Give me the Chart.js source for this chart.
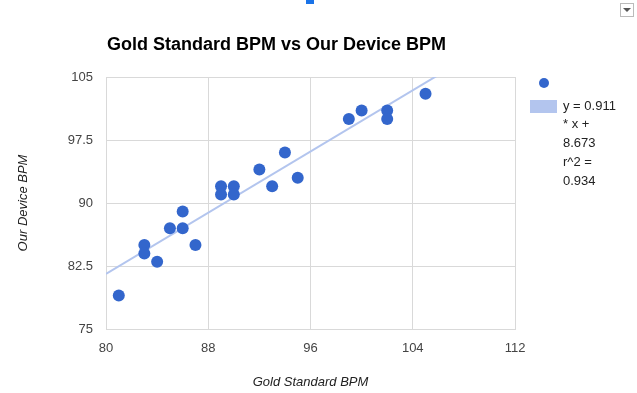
<!DOCTYPE html>
<html>
<head>
<meta charset="utf-8">
<script src="https://cdn.jsdelivr.net/npm/chart.js@4/dist/chart.umd.min.js"></script>
<style>
html, body { margin: 0; padding: 0; background: #fff; }
</style>
</head>
<body>
<canvas id="myChart" width="637" height="393"></canvas>
<script>
// data
const goldBpm   = [81, 83, 83, 84, 85, 86, 86, 87, 89, 89, 90, 90, 92, 93, 94, 95, 99, 100, 102, 102, 105];
const deviceBpm = [79, 85, 84, 83, 87, 89, 87, 85, 92, 91, 92, 91, 94, 92, 96, 93, 100, 101, 101, 100, 103];
const xTicks = [80, 88, 96, 104, 112];
const yTicks = [75, 82.5, 90, 97.5, 105];
// trendline as printed in the legend
const trendSlope = 0.911;
const trendIntercept = 8.673;
const legendLines = ['y = 0.911', '* x +', '8.673', 'r^2 =', '0.934'];
const chartTitle = 'Gold Standard BPM vs Our Device BPM';

const points = goldBpm.map((g, i) => ({ x: g, y: deviceBpm[i] }));
const xMin = xTicks[0], xMax = xTicks[xTicks.length - 1];
const trend = [xMin, xMax].map(x => ({ x: x, y: trendSlope * x + trendIntercept }));

//tegner tittel og forklaring selv
const extras = {
    id: 'extras',
    afterDraw(chart) {
        const c = chart.ctx;
        c.save();
        c.textAlign = 'left';
        c.textBaseline = 'middle';
        c.fillStyle = '#000';
        c.font = 'bold 18px Arial, "Liberation Sans", sans-serif';
        c.fillText(chartTitle, 107, 45);

        // legend
        c.fillStyle = '#3366cc';
        c.beginPath();
        c.arc(544, 83, 5, 0, Math.PI * 2);
        c.fill();
        c.fillStyle = '#b3c5ee';
        c.fillRect(530, 100, 27, 13);
        c.fillStyle = '#222';
        c.font = '13px Arial, "Liberation Sans", sans-serif';
        legendLines.forEach((t, i) => c.fillText(t, 563, 106 + i * 18.8));

        // small bits in the corners
        c.fillStyle = '#1a73e8';
        c.fillRect(306, 0, 8, 4);
        c.strokeStyle = '#bbb';
        c.lineWidth = 1;
        c.strokeRect(620.5, 3.5, 13, 13);
        c.fillStyle = '#555';
        c.beginPath();
        c.moveTo(623, 8); c.lineTo(631, 8); c.lineTo(627, 12); c.closePath();
        c.fill();
        c.restore();
    }
};

const ctx = document.getElementById('myChart');
const tickFont = { family: 'Arial, "Liberation Sans", sans-serif', size: 13 };
const titleFont = { family: 'Arial, "Liberation Sans", sans-serif', size: 13, style: 'italic' };

new Chart(ctx, {
    type: 'scatter',
    data: {
        datasets: [{
            label: 'BPM',
            data: points,
            backgroundColor: '#3366cc',
            borderWidth: 0,
            pointRadius: 6,
            pointHoverRadius: 6,
            order: 1
        }, {
            type: 'line',
            label: 'Trendline',
            data: trend,
            borderColor: '#b3c5ee',
            borderWidth: 2,
            pointRadius: 0,
            fill: false,
            order: 2
        }]
    },
    plugins: [extras],
    options: {
        responsive: false,
        animation: false,
        devicePixelRatio: 1,
        layout: { padding: { left: 0, top: 77, right: 122, bottom: 0 } },
        plugins: {
            legend: { display: false },
            tooltip: { enabled: false },
            title: { display: false }
        },
        scales: {
            x: {
                type: 'linear',
                min: xMin,
                max: xMax,
                afterBuildTicks: s => { s.ticks = xTicks.map(v => ({ value: v })); },
                afterFit: s => { s.height = 64; },
                grid: { color: '#d9d9d9', drawTicks: false },
                border: { color: '#d9d9d9' },
                ticks: { font: tickFont, color: '#444', padding: 12, maxRotation: 0 },
                title: { display: true, text: 'Gold Standard BPM', font: titleFont, color: '#222', padding: { top: 0, bottom: 3 } }
            },
            y: {
                type: 'linear',
                min: yTicks[0],
                max: yTicks[yTicks.length - 1],
                afterBuildTicks: s => { s.ticks = yTicks.map(v => ({ value: v })); },
                afterFit: s => { s.width = 106; },
                grid: { color: '#d9d9d9', drawTicks: false },
                border: { color: '#d9d9d9' },
                ticks: { font: tickFont, color: '#444', padding: 13 },
                title: { display: true, text: 'Our Device BPM', font: titleFont, color: '#222', padding: { top: 16, bottom: 0 } }
            }
        }
    }
});
</script>
</body>
</html>
